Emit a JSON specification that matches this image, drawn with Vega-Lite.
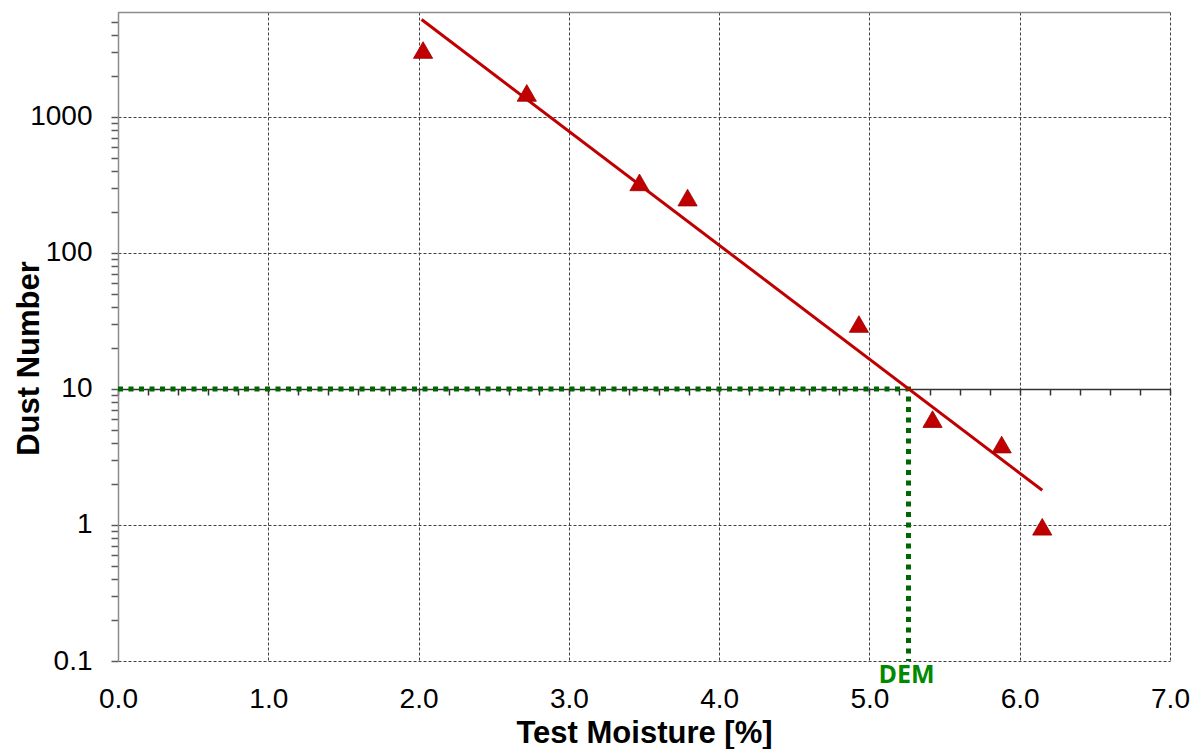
{
  "$schema": "https://vega.github.io/schema/vega-lite/v6.json",
  "width": 1052,
  "height": 649,
  "autosize": {"type": "none"},
  "padding": {"left": 118, "top": 12, "right": 26, "bottom": 88},
  "background": "white",
  "config": {"view": {"stroke": null}, "font": "Liberation Sans"},
  "datasets": {
    "points": [
      {"moisture": 2.03, "dust": 3100},
      {"moisture": 2.72, "dust": 1500},
      {"moisture": 3.47, "dust": 330},
      {"moisture": 3.79, "dust": 255},
      {"moisture": 4.93, "dust": 30},
      {"moisture": 5.42, "dust": 6},
      {"moisture": 5.88, "dust": 3.9},
      {"moisture": 6.15, "dust": 0.97}
    ],
    "fit": [
      {"moisture": 2.02, "dust": 5200},
      {"moisture": 6.15, "dust": 1.8}
    ],
    "dem": [
      {"moisture": 0, "dust": 10, "order": 1},
      {"moisture": 5.26, "dust": 10, "order": 2},
      {"moisture": 5.26, "dust": 0.1, "order": 3}
    ],
    "demLabel": [
      {"moisture": 5.26, "dust": 0.1, "label": "DEM"}
    ]
  },
  "resolve": {"scale": {"x": "shared", "y": "shared"}, "axis": {"x": "independent", "y": "shared"}},
  "layer": [
    {
      "data": {"name": "dem"},
      "mark": {"type": "line", "color": "#006600", "strokeWidth": 5, "strokeDash": [5, 5.5], "strokeCap": "butt"},
      "encoding": {
        "x": {
          "field": "moisture", "type": "quantitative",
          "scale": {"type": "linear", "domain": [0, 7], "nice": false, "zero": false},
          "axis": {"orient": "top", "title": null, "labels": false, "ticks": false, "grid": false, "domain": true, "domainColor": "#8c8c8c", "domainWidth": 1.5}
        },
        "y": {
          "field": "dust", "type": "quantitative",
          "scale": {"type": "log", "domain": [0.1, 5900], "nice": false},
          "axis": {
            "orient": "left",
            "title": "Dust Number",
            "titleFont": "Liberation Sans", "titleFontSize": 31, "titleFontWeight": "bold", "titleColor": "black",
            "titleX": -80, "titleY": 346, "titleAngle": -90, "titleAlign": "center", "titleBaseline": "alphabetic",
            "values": [0.1, 0.2, 0.3, 0.4, 0.5, 0.6, 0.7, 0.8, 0.9, 1, 2, 3, 4, 5, 6, 7, 8, 9, 10, 20, 30, 40, 50, 60, 70, 80, 90, 100, 200, 300, 400, 500, 600, 700, 800, 900, 1000, 2000, 3000, 4000, 5000],
            "format": "~g",
            "labelExpr": "(datum.value == 0.1 || datum.value == 1 || datum.value == 10 || datum.value == 100 || datum.value == 1000) ? datum.label : ''",
            "labelFont": "Liberation Sans", "labelFontSize": 28, "labelColor": "black", "labelPadding": 19,
            "labelOverlap": false, "labelFlush": false,
            "tickSize": 7, "tickColor": "#595959", "tickWidth": 1.5,
            "domainColor": "#8c8c8c", "domainWidth": 1.5,
            "grid": true, "gridColor": "#404040", "gridDash": [3, 2], "gridWidth": 1,
            "gridOpacity": {"condition": {"test": "datum.value == 0.1 || datum.value == 1 || datum.value == 10 || datum.value == 100 || datum.value == 1000", "value": 1}, "value": 0}
          }
        },
        "order": {"field": "order", "type": "quantitative"}
      }
    },
    {
      "data": {"name": "fit"},
      "mark": {"type": "line", "color": "#C00000", "strokeWidth": 3},
      "encoding": {
        "x": {
          "field": "moisture", "type": "quantitative",
          "scale": {"type": "linear", "domain": [0, 7], "nice": false, "zero": false},
          "axis": {
            "orient": "bottom", "offset": -272, "title": null, "labels": false, "grid": false,
            "domain": true, "domainColor": "#333333", "domainWidth": 1.5,
            "ticks": true, "tickSize": 6, "tickColor": "#333333", "tickWidth": 1.5,
            "values": [0, 0.2, 0.4, 0.6, 0.8, 1, 1.2, 1.4, 1.6, 1.8, 2, 2.2, 2.4, 2.6, 2.8, 3, 3.2, 3.4, 3.6, 3.8, 4, 4.2, 4.4, 4.6, 4.8, 5, 5.2, 5.4, 5.6, 5.8, 6, 6.2, 6.4, 6.6, 6.8, 7]
          }
        },
        "y": {"field": "dust", "type": "quantitative", "scale": {"type": "log", "domain": [0.1, 5900], "nice": false}}
      }
    },
    {
      "data": {"name": "demLabel"},
      "mark": {"type": "text", "font": "Open Sans", "fontWeight": "bold", "fontSize": 25, "color": "#008a00", "align": "center", "baseline": "alphabetic", "dy": 22, "dx": -2},
      "encoding": {
        "x": {"field": "moisture", "type": "quantitative", "scale": {"type": "linear", "domain": [0, 7], "nice": false, "zero": false}, "axis": null},
        "y": {"field": "dust", "type": "quantitative", "scale": {"type": "log", "domain": [0.1, 5900], "nice": false}},
        "text": {"field": "label", "type": "nominal"}
      }
    },
    {
      "data": {"name": "points"},
      "mark": {"type": "point", "shape": "triangle-up", "filled": true, "color": "#C00000", "size": 370, "opacity": 1, "stroke": "#A00000", "strokeWidth": 0.8},
      "encoding": {
        "x": {
          "field": "moisture", "type": "quantitative",
          "scale": {"type": "linear", "domain": [0, 7], "nice": false, "zero": false},
          "axis": {
            "orient": "bottom",
            "title": "Test Moisture [%]",
            "titleFont": "Liberation Sans", "titleFontSize": 31, "titleFontWeight": "bold", "titleColor": "black",
            "titleX": 526, "titleY": 81, "titleAlign": "center", "titleBaseline": "alphabetic",
            "values": [0, 1, 2, 3, 4, 5, 6, 7],
            "format": ".1f",
            "labelFont": "Liberation Sans", "labelFontSize": 28, "labelColor": "black", "labelPadding": 46, "labelBaseline": "alphabetic", "labelFlush": false, "labelOverlap": false,
            "ticks": false, "domain": false,
            "grid": true, "gridColor": "#404040", "gridDash": [3, 2], "gridWidth": 1
          }
        },
        "y": {"field": "dust", "type": "quantitative", "scale": {"type": "log", "domain": [0.1, 5900], "nice": false}}
      }
    }
  ]
}
